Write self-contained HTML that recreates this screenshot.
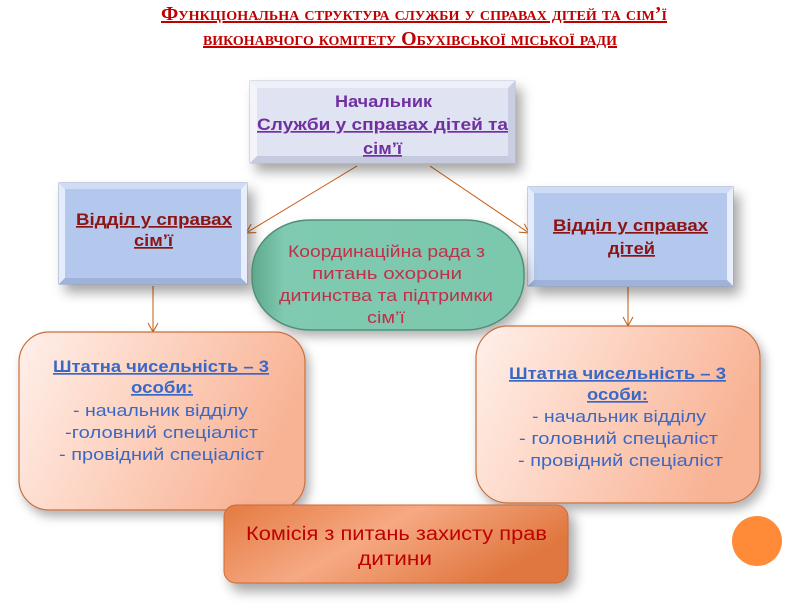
<!DOCTYPE html>
<html><head><meta charset="utf-8"><style>
html,body{margin:0;padding:0;background:#fff;width:786px;height:610px;overflow:hidden}
svg{display:block}
.c{font-family:"Liberation Sans","DejaVu Sans",sans-serif}
</style></head><body>
<svg width="786" height="610" viewBox="0 0 786 610" xmlns="http://www.w3.org/2000/svg">
<defs>
<filter id="sh" x="-20%" y="-20%" width="150%" height="160%">
<feDropShadow dx="6" dy="8" stdDeviation="6" flood-color="#000" flood-opacity="0.35"/>
</filter>
<filter id="sh2" x="-20%" y="-20%" width="150%" height="160%">
<feDropShadow dx="4" dy="6" stdDeviation="5" flood-color="#000" flood-opacity="0.3"/>
</filter>
<linearGradient id="og" x1="0" y1="0" x2="1" y2="0.3">
<stop offset="0" stop-color="#fff0ea"/><stop offset="0.45" stop-color="#fdd5c4"/><stop offset="1" stop-color="#f8b395"/>
</linearGradient>
<linearGradient id="bg" x1="0" y1="0" x2="1" y2="0.4">
<stop offset="0" stop-color="#e47a42"/><stop offset="0.5" stop-color="#f6a983"/><stop offset="1" stop-color="#e0773f"/>
</linearGradient>
<linearGradient id="gg" x1="0" y1="0" x2="1" y2="0">
<stop offset="0" stop-color="#5fa88e"/><stop offset="0.12" stop-color="#7fcab0"/><stop offset="1" stop-color="#7cc8ad"/>
</linearGradient>
<marker id="ar" markerWidth="12" markerHeight="12" refX="10" refY="6" orient="auto" markerUnits="userSpaceOnUse">
<path d="M1,1 L10,6 L1,11" fill="none" stroke="#c55a11" stroke-width="1"/>
</marker>
</defs>

<!-- Title -->
<g font-family="'Liberation Serif','DejaVu Serif',serif" fill="#c00000" font-weight="bold" style="font-variant:small-caps">
<text x="161" y="20" font-size="20" textLength="506" lengthAdjust="spacingAndGlyphs" text-decoration="underline">Функціональна структура служби у справах дітей та сім’ї</text>
<text x="203" y="45" font-size="20" textLength="414" lengthAdjust="spacingAndGlyphs" text-decoration="underline">виконавчого комітету Обухівської міської ради</text>
</g>

<!-- connectors -->
<g stroke="#c55a11" stroke-width="1" fill="none">
<line x1="357" y1="166" x2="246" y2="233" marker-end="url(#ar)"/>
<line x1="430" y1="166" x2="529" y2="233" marker-end="url(#ar)"/>
<line x1="153" y1="286" x2="153" y2="332" marker-end="url(#ar)"/>
<line x1="628" y1="287" x2="628" y2="326" marker-end="url(#ar)"/>
</g>

<!-- Top box -->
<g filter="url(#sh)">
<rect x="250" y="81" width="265" height="82" fill="#dfe3f2" stroke="#b8bfd8" stroke-width="1"/>
</g>
<path d="M250,81 L515,81 L508,88 L257,88 Z" fill="#eef0f8"/>
<path d="M250,81 L257,88 L257,156 L250,163 Z" fill="#f4f5fb"/>
<path d="M515,81 L515,163 L508,156 L508,88 Z" fill="#c9cee2"/>
<path d="M250,163 L515,163 L508,156 L257,156 Z" fill="#c5cadf"/>
<g class="c" fill="#7030a0" font-weight="bold" font-size="17">
<text x="335" y="107" textLength="97" lengthAdjust="spacingAndGlyphs">Начальник</text>
<text x="257" y="130" textLength="251" lengthAdjust="spacingAndGlyphs" text-decoration="underline">Служби у справах дітей та</text>
<text x="363" y="154" textLength="39" lengthAdjust="spacingAndGlyphs" text-decoration="underline">сім’ї</text>
</g>

<!-- Left box -->
<g filter="url(#sh)">
<rect x="59" y="183" width="188" height="101" fill="#b4c7ec" stroke="#8fa2c8" stroke-width="1"/>
</g>
<path d="M59,183 L247,183 L241,189 L65,189 Z" fill="#cfdcf5"/>
<path d="M59,183 L65,189 L65,278 L59,284 Z" fill="#e4ecfb"/>
<path d="M247,183 L247,284 L241,278 L241,189 Z" fill="#e8eefc"/>
<path d="M59,284 L247,284 L241,278 L65,278 Z" fill="#9fb3da"/>
<g class="c" fill="#8b1414" font-weight="bold" font-size="17">
<text x="76" y="225" textLength="156" lengthAdjust="spacingAndGlyphs" text-decoration="underline">Відділ у справах</text>
<text x="134" y="246" textLength="39" lengthAdjust="spacingAndGlyphs" text-decoration="underline">сім’ї</text>
</g>

<!-- Right box -->
<g filter="url(#sh)">
<rect x="528" y="187" width="205" height="99" fill="#b4c7ec" stroke="#8fa2c8" stroke-width="1"/>
</g>
<path d="M528,187 L733,187 L727,193 L534,193 Z" fill="#cfdcf5"/>
<path d="M528,187 L534,193 L534,280 L528,286 Z" fill="#e4ecfb"/>
<path d="M733,187 L733,286 L727,280 L727,193 Z" fill="#e8eefc"/>
<path d="M528,286 L733,286 L727,280 L534,280 Z" fill="#9fb3da"/>
<g class="c" fill="#8b1414" font-weight="bold" font-size="17">
<text x="553" y="231" textLength="155" lengthAdjust="spacingAndGlyphs" text-decoration="underline">Відділ у справах</text>
<text x="608" y="254" textLength="47" lengthAdjust="spacingAndGlyphs" text-decoration="underline">дітей</text>
</g>

<!-- Green -->
<g filter="url(#sh2)">
<rect x="252" y="220" width="272" height="110" rx="58" ry="52" fill="url(#gg)" stroke="#4f8f78" stroke-width="1.5"/>
</g>
<g class="c" fill="#c0304a" font-size="17">
<text x="288" y="257" textLength="197" lengthAdjust="spacingAndGlyphs">Координаційна рада з</text>
<text x="312" y="279" textLength="150" lengthAdjust="spacingAndGlyphs">питань охорони</text>
<text x="279" y="301" textLength="214" lengthAdjust="spacingAndGlyphs">дитинства та підтримки</text>
<text x="367" y="323" textLength="38" lengthAdjust="spacingAndGlyphs">сім’ї</text>
</g>

<!-- Left orange -->
<g filter="url(#sh2)">
<rect x="19" y="332" width="286" height="178" rx="30" fill="url(#og)" stroke="#c8703d" stroke-width="1.2"/>
</g>
<g class="c" fill="#3a68c6" font-size="17">
<text x="53" y="372" textLength="216" lengthAdjust="spacingAndGlyphs" font-weight="bold" text-decoration="underline">Штатна чисельність – 3</text>
<text x="131" y="393" textLength="62" lengthAdjust="spacingAndGlyphs" font-weight="bold" text-decoration="underline">особи:</text>
<text x="73" y="416" textLength="175" lengthAdjust="spacingAndGlyphs">- начальник відділу</text>
<text x="65" y="438" textLength="193" lengthAdjust="spacingAndGlyphs">-головний спеціаліст</text>
<text x="59" y="460" textLength="205" lengthAdjust="spacingAndGlyphs">- провідний спеціаліст</text>
</g>

<!-- Right orange -->
<g filter="url(#sh2)">
<rect x="476" y="326" width="284" height="177" rx="32" fill="url(#og)" stroke="#c8703d" stroke-width="1.2"/>
</g>
<g class="c" fill="#3a68c6" font-size="17">
<text x="509" y="379" textLength="217" lengthAdjust="spacingAndGlyphs" font-weight="bold" text-decoration="underline">Штатна чисельність – 3</text>
<text x="587" y="400" textLength="61" lengthAdjust="spacingAndGlyphs" font-weight="bold" text-decoration="underline">особи:</text>
<text x="532" y="422" textLength="174" lengthAdjust="spacingAndGlyphs">- начальник відділу</text>
<text x="519" y="444" textLength="199" lengthAdjust="spacingAndGlyphs">- головний спеціаліст</text>
<text x="518" y="466" textLength="205" lengthAdjust="spacingAndGlyphs">- провідний спеціаліст</text>
</g>

<!-- Bottom -->
<g filter="url(#sh)">
<rect x="224" y="505" width="344" height="78" rx="12" fill="url(#bg)" stroke="#d06a35" stroke-width="1"/>
</g>
<g class="c" fill="#c00000" font-size="19">
<text x="246" y="540" textLength="301" lengthAdjust="spacingAndGlyphs">Комісія з питань захисту прав</text>
<text x="358" y="565" textLength="74" lengthAdjust="spacingAndGlyphs">дитини</text>
</g>

<!-- circle -->
<circle cx="757" cy="541" r="25" fill="#ff8a38"/>
</svg>
</body></html>
